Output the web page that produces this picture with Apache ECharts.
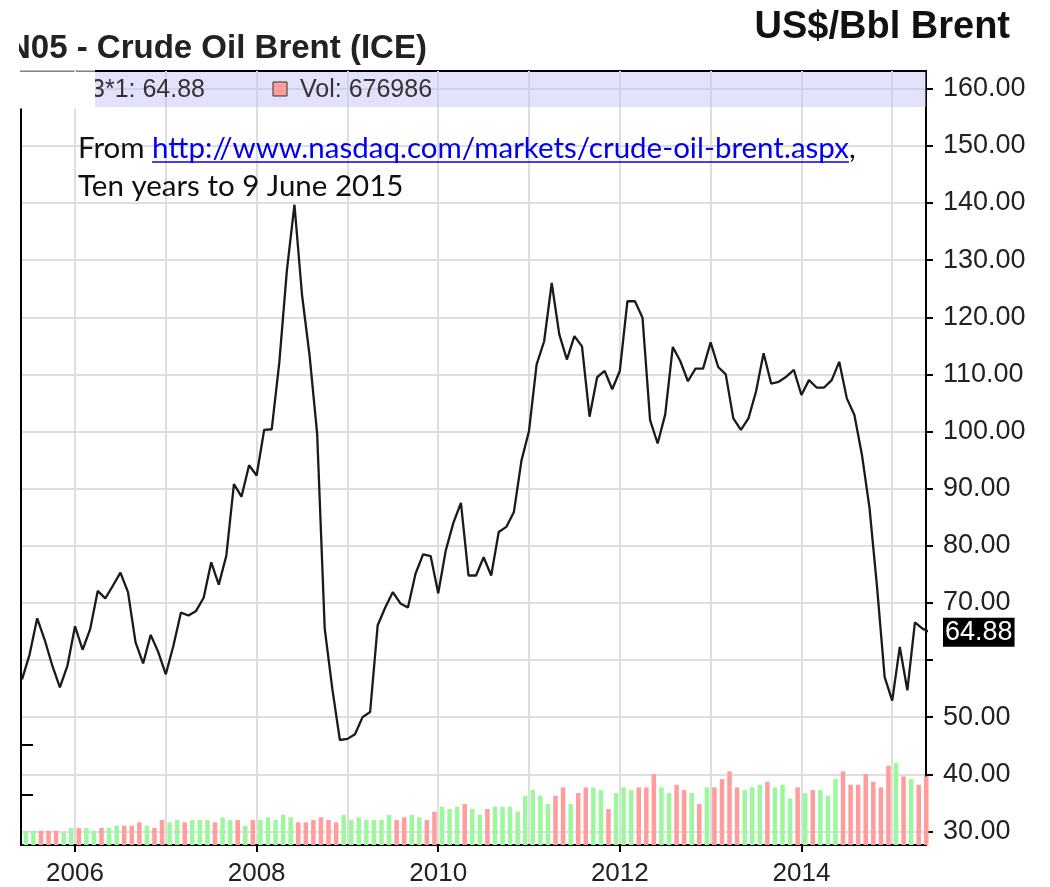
<!DOCTYPE html>
<html>
<head>
<meta charset="utf-8">
<title>Crude Oil Brent</title>
<script src="https://cdn.jsdelivr.net/npm/echarts@6.0.0/dist/echarts.min.js"></script>
<style>
  html, body { margin: 0; padding: 0; background: #fff; }
  #chart { width: 1050px; height: 887px; }
</style>
</head>
<body>
<div id="chart"></div>
<script>
// monthly closes, June 2005 .. June 2015 (US$/bbl)
const firstYear = 2005, firstMonth = 6;
const prices = [
  56.6, 61.0, 67.3, 63.5, 59.0, 55.2, 59.0, 65.9, 61.8, 65.4,
  72.1, 70.8, 73.0, 75.3, 71.9, 63.1, 59.4, 64.4, 61.4, 57.5,
  62.5, 68.3, 67.8, 68.6, 70.9, 77.1, 73.2, 78.3, 90.8, 88.6,
  94.1, 92.3, 100.3, 100.4, 112.1, 128.2, 139.7, 123.9, 113.3, 99.6,
  65.5, 55.0, 46.0, 46.2, 47.0, 50.0, 50.9, 66.1, 69.2, 71.9,
  69.9, 69.2, 75.1, 78.5, 78.2, 71.7, 79.2, 84.0, 87.5, 74.8,
  74.8, 78.0, 74.8, 82.4, 83.3, 85.9, 94.9, 100.1, 111.7, 115.8,
  126.0, 117.0, 112.6, 116.7, 114.9, 102.6, 109.5, 110.6, 107.4, 110.6,
  122.8, 122.8, 119.9, 102.0, 97.9, 103.0, 114.8, 112.3, 108.8, 111.0,
  111.0, 115.6, 111.3, 110.0, 102.3, 100.3, 102.3, 107.0, 113.7, 108.4,
  108.7, 109.6, 110.8, 106.4, 109.0, 107.7, 107.7, 109.0, 112.2, 105.8,
  102.9, 95.9, 86.6, 72.7, 57.0, 52.9, 62.3, 54.7, 66.6, 65.5,
  64.88
];
// monthly volume (thousands), June 2005 .. May 2015
const volumes = [
  143, 143, 143, 143, 143, 120, 170, 170, 170, 143,
  170, 170, 193, 193, 193, 227, 193, 170, 250, 227,
  250, 227, 250, 250, 250, 227, 277, 250, 250, 193,
  250, 250, 277, 250, 303, 277, 227, 227, 250, 277,
  250, 227, 303, 250, 277, 250, 250, 250, 303, 250,
  277, 303, 277, 250, 333, 383, 360, 383, 410, 360,
  303, 360, 383, 383, 383, 333, 493, 550, 493, 410,
  493, 577, 410, 520, 577, 577, 550, 360, 520, 577,
  550, 577, 577, 710, 577, 520, 603, 550, 520, 410,
  577, 577, 660, 737, 577, 550, 577, 603, 633, 577,
  603, 467, 577, 520, 550, 550, 493, 660, 737, 603,
  603, 710, 633, 577, 793, 820, 687, 660, 603, 687
];
// 1 = green bar, 0 = red bar
const volUp = [
  1, 1, 0, 0, 0, 1, 1, 0, 1, 1,
  0, 1, 1, 0, 0, 0, 1, 0, 0, 1,
  1, 0, 1, 1, 1, 0, 1, 1, 0, 1,
  0, 1, 1, 1, 1, 1, 0, 0, 0, 0,
  0, 0, 1, 1, 1, 1, 1, 1, 1, 0,
  0, 1, 1, 0, 0, 1, 1, 1, 0, 1,
  1, 0, 1, 1, 1, 1, 1, 1, 1, 1,
  0, 0, 1, 0, 0, 1, 1, 0, 1, 1,
  1, 0, 0, 0, 1, 1, 0, 0, 1, 0,
  1, 0, 0, 0, 0, 1, 1, 1, 0, 1,
  1, 1, 0, 1, 0, 1, 1, 1, 0, 0,
  0, 0, 0, 0, 0, 1, 0, 1, 0, 0
];
const yearTicks = [2006, 2007, 2008, 2009, 2010, 2011, 2012, 2013, 2014, 2015];
const yearLabels = [2006, 2008, 2010, 2012, 2014];
const priceTicks = [30, 40, 50, 60, 70, 80, 90, 100, 110, 120, 130, 140, 150, 160];
const priceLabels = [30, 40, 50, 70, 80, 90, 100, 110, 120, 130, 140, 150, 160];
const volTicks = [500, 1000];
const lastPrice = 64.88;
const lastVol = 676986;

const GREEN = '#9ef79e', RED = '#ff9c9c';
const FONT = 'Liberation Sans, Arial, sans-serif';

// month index -> decimal year (start of month)
function monthPos(i) {
  return firstYear + (firstMonth - 1 + i) / 12;
}

const lineData = prices.map((p, i) => [monthPos(i), p]);
const barData = volumes.map((v, i) => ({
  value: [monthPos(i) + 1 / 24, v],
  itemStyle: { color: volUp[i] ? GREEN : RED }
}));

const chart = echarts.init(document.getElementById('chart'));

// measure text for the link underline
const ctx = document.createElement('canvas').getContext('2d');
const noteFont = '29.5px Lato';
ctx.font = noteFont;
const wFrom = ctx.measureText('From ').width;
const linkText = 'http://www.nasdaq.com/markets/crude-oil-brent.aspx';
const wLink = ctx.measureText(linkText).width;
const noteX = 78;

const graphics = [
  // price box band
  { type: 'rect', shape: { x: 95, y: 72, width: 831, height: 35 },
    style: { fill: 'rgba(190,190,245,0.45)' }, z: 1 },
  { type: 'text', x: 91, y: 90, z: 5,
    style: { text: '3*1: 64.88', font: '25px ' + FONT, fill: '#333', verticalAlign: 'middle' } },
  { type: 'rect', shape: { x: 273, y: 82, width: 14, height: 14 }, z: 5,
    style: { fill: RED, stroke: '#333', lineWidth: 1 } },
  { type: 'text', x: 300, y: 90, z: 5,
    style: { text: 'Vol: ' + lastVol, font: '25px ' + FONT, fill: '#333', verticalAlign: 'middle' } },
  // white patch where the screenshot was cut
  { type: 'rect', shape: { x: 0, y: 71.5, width: 95, height: 37 }, style: { fill: '#fff' }, z: 10 },
  { type: 'line', shape: { x1: 20, y1: 70.5, x2: 95, y2: 70.5 }, style: { stroke: '#bbb', lineWidth: 1 }, z: 10 },
  // titles
  { type: 'text', x: 7, y: 49, z: 5,
    style: { text: 'N05 - Crude Oil Brent (ICE)', font: 'bold 33px ' + FONT, fill: '#222', verticalAlign: 'middle' } },
  { type: 'rect', shape: { x: 0, y: 25, width: 19, height: 45 }, style: { fill: '#fff' }, z: 10 },
  { type: 'text', x: 1010, y: 28, z: 5,
    style: { text: 'US$/Bbl Brent', font: 'bold 38px ' + FONT, fill: '#111', align: 'right', verticalAlign: 'middle' } },
  // source note
  { type: 'text', x: noteX, y: 148, z: 5,
    style: { text: 'From ', font: noteFont, fill: '#111', verticalAlign: 'middle' } },
  { type: 'text', x: noteX + wFrom, y: 148, z: 5,
    style: { text: linkText, font: noteFont, fill: '#0000ee', verticalAlign: 'middle' } },
  { type: 'line', shape: { x1: noteX + wFrom, y1: 162, x2: noteX + wFrom + wLink, y2: 162 }, z: 5,
    style: { stroke: '#0000ee', lineWidth: 1.5 } },
  { type: 'text', x: noteX + wFrom + wLink, y: 148, z: 5,
    style: { text: ',', font: noteFont, fill: '#111', verticalAlign: 'middle' } },
  { type: 'text', x: noteX, y: 186, z: 5,
    style: { text: 'Ten years to 9 June 2015', font: noteFont, fill: '#111', verticalAlign: 'middle' } }
];

const option = {
  animation: false,
  backgroundColor: '#fff',
  grid: {
    left: 21, right: 124, top: 71, bottom: 41,
    show: true, borderColor: '#000', borderWidth: 2
  },
  xAxis: [
    {
      type: 'value', min: 2005.405, max: 2015.372,
      axisLine: { show: true, lineStyle: { color: '#000', width: 2 } },
      axisTick: { show: false, customValues: yearTicks },
      splitLine: { show: true, lineStyle: { color: '#dedede', width: 2 } },
      axisLabel: {
        customValues: yearLabels, formatter: v => String(v),
        fontSize: 26, fontFamily: FONT, color: '#222', margin: 16
      }
    },
    {
      type: 'value', min: 2005.405, max: 2015.372, position: 'bottom',
      axisLine: { show: false },
      axisTick: { show: true, customValues: yearLabels, length: 7, lineStyle: { color: '#000', width: 2 } },
      axisLabel: { show: false },
      splitLine: { show: false }
    }
  ],
  yAxis: [
    {
      type: 'value', position: 'right', min: 27.62, max: 163.11,
      axisLine: { show: true, lineStyle: { color: '#000', width: 2 } },
      axisTick: { show: true, customValues: priceTicks, length: 7, lineStyle: { color: '#000', width: 2 } },
      axisLabel: {
        customValues: priceLabels, formatter: v => v.toFixed(2),
        fontSize: 27, fontFamily: FONT, color: '#222', margin: 17
      },
      splitLine: { show: true, lineStyle: { color: '#dedede', width: 2 } }
    },
    {
      type: 'value', position: 'left', min: 0, max: 7750,
      axisLine: { show: true, lineStyle: { color: '#000', width: 2 } },
      axisTick: { show: true, inside: true, customValues: volTicks, length: 12, lineStyle: { color: '#000', width: 2 } },
      axisLabel: { show: false },
      splitLine: { show: false }
    }
  ],
  series: [
    {
      name: 'Vol', type: 'bar', xAxisIndex: 0, yAxisIndex: 1,
      barWidth: 4.5, data: barData, z: 2
    },
    {
      name: 'Brent', type: 'line', xAxisIndex: 0, yAxisIndex: 0,
      data: lineData, showSymbol: false, clip: true,
      lineStyle: { color: '#1a1a1a', width: 2.3 }, z: 3
    }
  ],
  graphic: graphics
};
chart.setOption(option);

// last price tag on the price axis
const tagY = chart.convertToPixel({ yAxisIndex: 0 }, lastPrice);
chart.setOption({
  graphic: graphics.concat([{
    type: 'text', x: 943, y: tagY, z: 6,
    style: {
      text: lastPrice.toFixed(2), font: '27px ' + FONT, fill: '#fff',
      backgroundColor: '#000', padding: [2, 2, 0, 2], verticalAlign: 'middle'
    }
  }])
});
</script>
</body>
</html>
